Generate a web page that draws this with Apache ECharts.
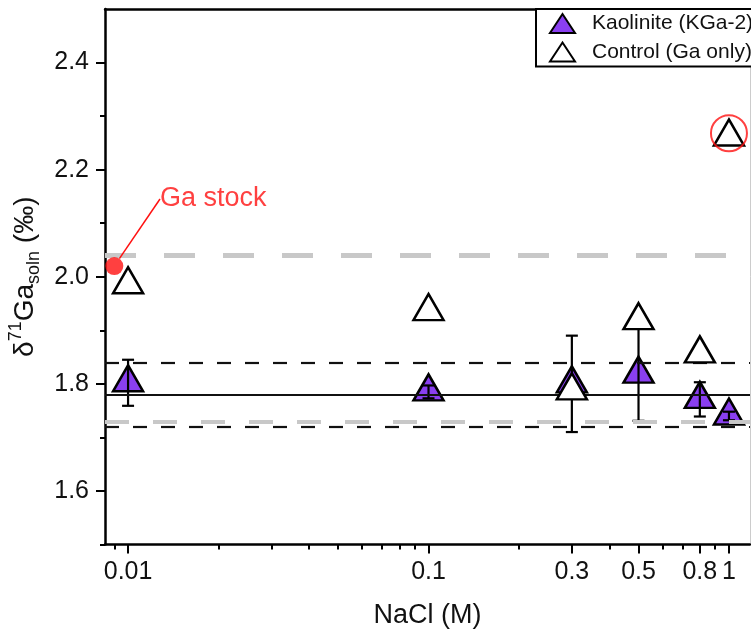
<!DOCTYPE html>
<html><head><meta charset="utf-8">
<script src="https://cdn.jsdelivr.net/npm/echarts@6/dist/echarts.min.js"></script>
<style>html,body{margin:0;padding:0;background:#fff}#c{width:751px;height:630px}</style>
</head><body><div id="c"></div>
<script>
// ---- data ----
const nacl = [0.01, 0.1, 0.3, 0.5, 0.8, 1.0];
const kaolinite = [1.802, 1.785, 1.800, 1.818, 1.771, 1.740];
const kaoliniteErr = [0.043, 0.012, 0.090, 0.087, 0.032, 0.008];
const control = [1.985, 1.935, 1.787, 1.918, 1.856, 2.261];
const gaStockX = [0.009];
const gaStockY = [2.02];
const circledX = [1.0];
const circledY = [2.268];
const meanLine = 1.78;
const bandLines = [1.72, 1.84];
const grayUpper = 2.04;
const grayLower = 1.728;
const xMajorTicks = [0.01, 0.1, 0.3, 0.5, 0.8, 1];
const xMajorLabels = ['0.01', '0.1', '0.3', '0.5', '0.8', '1'];
const xMinorTicks = [0.009, 0.02, 0.03, 0.04, 0.05, 0.06, 0.07, 0.08, 0.09, 0.2, 0.4, 0.6, 0.7, 0.9];
const yMajorTicks = [1.6, 1.8, 2.0, 2.2, 2.4];
const yMinorTicks = [1.5, 1.7, 1.9, 2.1, 2.3];
const xLimits = [0.00838, 1.175];
const yLimits = [1.5, 2.5];

const L = Math.log10;
const PURPLE = '#8a3ff0';
const RED = '#ff1010';
const FONT = 'Liberation Sans, Arial, sans-serif';

const chart = echarts.init(document.getElementById('c'), null, {renderer: 'canvas'});

function xLabel(v) {
  let best = 0, bd = 1e9;
  xMajorTicks.forEach((t, i) => { const d = Math.abs(L(t) - v); if (d < bd) { bd = d; best = i; } });
  return xMajorLabels[best];
}

const xBase = {
  type: 'value', gridIndex: 0, min: L(xLimits[0]), max: L(xLimits[1]),
  splitLine: {show: false}
};
const yBase = {
  type: 'value', gridIndex: 0, min: yLimits[0], max: yLimits[1],
  splitLine: {show: false}
};

const option = {
  backgroundColor: '#fff',
  animation: false,
  textStyle: {fontFamily: FONT},
  grid: {left: 105, right: 1, top: 9, bottom: 85.5, containLabel: false, outerBoundsMode: 'none'},
  legend: {
    data: ['Kaolinite (KGa-2)', 'Control (Ga only)'],
    orient: 'vertical', left: 536, top: 9,
    icon: 'triangle', symbolKeepAspect: false,
    itemWidth: 25, itemHeight: 19, itemGap: 7.5,
    padding: [4, 6, 4, 13],
    borderColor: '#000', borderWidth: 2, backgroundColor: '#fff',
    textStyle: {fontSize: 21, color: '#111', fontFamily: FONT, padding: [0, 0, 0, 12], lineHeight: 19},
    selectedMode: false
  },
  xAxis: [
    Object.assign({}, xBase, {
      position: 'bottom',
      axisLine: {show: true, onZero: false, lineStyle: {color: '#000', width: 2.5}},
      axisTick: {show: true, customValues: xMajorTicks.map(L), length: 9, inside: false, lineStyle: {color: '#000', width: 2}},
      axisLabel: {show: true, customValues: xMajorTicks.map(L), formatter: xLabel, fontSize: 25, color: '#111', margin: 15, fontFamily: FONT},
      name: 'NaCl (M)', nameLocation: 'middle', nameGap: 58,
      nameTextStyle: {fontSize: 27, color: '#111', fontFamily: FONT}
    }),
    Object.assign({}, xBase, {
      position: 'bottom',
      axisLine: {show: false, onZero: false},
      axisTick: {show: true, customValues: xMinorTicks.map(L), length: 5, inside: false, lineStyle: {color: '#000', width: 2}},
      axisLabel: {show: false}
    }),
    Object.assign({}, xBase, {
      position: 'top',
      axisLine: {show: true, onZero: false, lineStyle: {color: '#000', width: 2.5}},
      axisTick: {show: false}, axisLabel: {show: false}
    })
  ],
  yAxis: [
    Object.assign({}, yBase, {
      position: 'left',
      axisLine: {show: true, onZero: false, lineStyle: {color: '#000', width: 2.5}},
      axisTick: {show: true, customValues: yMajorTicks, length: 9, inside: false, lineStyle: {color: '#000', width: 2}},
      axisLabel: {show: true, customValues: yMajorTicks, formatter: v => v.toFixed(1), fontSize: 25, color: '#111', margin: 16, fontFamily: FONT},
      name: '{m|δ}{sup|71}{m|Ga}{sub|soln}{m| (‰)}', nameLocation: 'middle', nameGap: 56,
      nameTextStyle: {
        fontSize: 28, color: '#111', fontFamily: FONT,
        rich: {
          m: {fontSize: 28, lineHeight: 36, color: '#111', fontFamily: FONT},
          sup: {fontSize: 18, lineHeight: 18, verticalAlign: 'top', color: '#111', fontFamily: FONT},
          sub: {fontSize: 18, lineHeight: 18, verticalAlign: 'bottom', color: '#111', fontFamily: FONT}
        }
      }
    }),
    Object.assign({}, yBase, {
      position: 'left',
      axisLine: {show: false, onZero: false},
      axisTick: {show: true, customValues: yMinorTicks, length: 5, inside: false, lineStyle: {color: '#000', width: 2}},
      axisLabel: {show: false}
    }),
    Object.assign({}, yBase, {
      position: 'right',
      axisLine: {show: true, onZero: false, lineStyle: {color: '#ccc', width: 1}},
      axisTick: {show: false}, axisLabel: {show: false}
    })
  ],
  series: [
    {
      type: 'line', name: 'refs', data: [], xAxisIndex: 0, yAxisIndex: 0, z: 1, silent: true,
      markLine: {
        silent: true, symbol: 'none', animation: false,
        label: {show: false},
        data: [
          {yAxis: grayUpper, lineStyle: {color: '#c8c8c8', width: 5, type: [31, 28]}},
          {yAxis: grayLower, lineStyle: {color: '#c8c8c8', width: 4, type: [24, 24]}},
          {yAxis: bandLines[0], lineStyle: {color: '#111', width: 2.2, type: [14, 14]}},
          {yAxis: bandLines[1], lineStyle: {color: '#111', width: 2.2, type: [14, 14]}},
          {yAxis: meanLine, lineStyle: {color: '#111', width: 2.2, type: 'solid'}}
        ]
      }
    },
    {
      type: 'scatter', name: 'Kaolinite (KGa-2)', z: 3,
      data: nacl.map((c, i) => [L(c), kaolinite[i]]),
      symbol: 'triangle', symbolSize: [30, 26], symbolOffset: [0, -4.5],
      itemStyle: {color: PURPLE, borderColor: '#000', borderWidth: 2.5, opacity: 1}
    },
    {
      type: 'custom', name: 'kaoErr', z: 4, silent: true,
      data: nacl.map((c, i) => [L(c), kaolinite[i] - kaoliniteErr[i], kaolinite[i] + kaoliniteErr[i]]),
      encode: {x: 0, y: [1, 2]},
      renderItem: function (params, api) {
        const x = api.value(0), lo = api.value(1), hi = api.value(2);
        const p1 = api.coord([x, lo]), p2 = api.coord([x, hi]);
        const w = 6;
        const st = {stroke: '#000', lineWidth: 2.2};
        return {type: 'group', children: [
          {type: 'line', shape: {x1: p1[0], y1: p1[1], x2: p2[0], y2: p2[1]}, style: st},
          {type: 'line', shape: {x1: p1[0] - w, y1: p1[1], x2: p1[0] + w, y2: p1[1]}, style: st},
          {type: 'line', shape: {x1: p2[0] - w, y1: p2[1], x2: p2[0] + w, y2: p2[1]}, style: st}
        ]};
      }
    },
    {
      type: 'scatter', name: 'Control (Ga only)', z: 5,
      data: nacl.map((c, i) => [L(c), control[i]]),
      symbol: 'triangle', symbolSize: [30, 26], symbolOffset: [0, -4.5],
      itemStyle: {color: '#fff', borderColor: '#000', borderWidth: 2.5, opacity: 1}
    },
    {
      type: 'scatter', name: 'circled', z: 6, silent: true,
      data: circledX.map((c, i) => [L(c), circledY[i]]),
      symbol: 'circle', symbolSize: 36,
      itemStyle: {color: 'rgba(0,0,0,0)', borderColor: RED, borderWidth: 2}
    },
    {
      type: 'scatter', name: 'Ga stock', z: 6, silent: true,
      data: gaStockX.map((c, i) => [L(c), gaStockY[i]]),
      symbol: 'circle', symbolSize: 18,
      itemStyle: {color: RED, borderWidth: 0},
      label: {show: true, formatter: 'Ga stock', color: RED, fontSize: 27, lineHeight: 20, fontFamily: FONT, position: 'right'},
      labelLayout: {x: 160, y: 199, align: 'left', verticalAlign: 'middle'},
      labelLine: {show: true, lineStyle: {color: RED, width: 1.5}}
    }
  ]
};
chart.setOption(option);
</script>
</body></html>
